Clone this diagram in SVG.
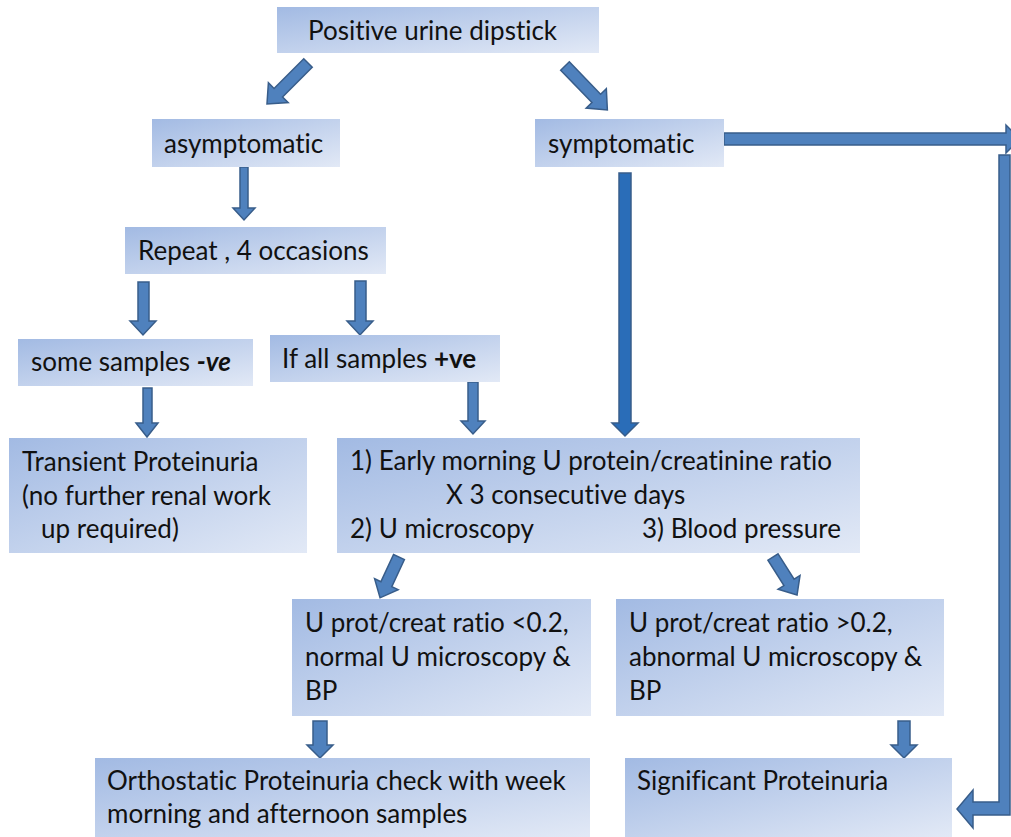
<svg xmlns="http://www.w3.org/2000/svg" width="1011" height="837" viewBox="0 0 1011 837">
<defs>
<linearGradient id="g" x1="0" y1="0" x2="1" y2="1">
<stop offset="0" stop-color="#A2BAE3"/>
<stop offset="1" stop-color="#E2E9F6"/>
</linearGradient>
<style>
.box{fill:url(#g);}
.t{font-family:Lato,"Liberation Sans",sans-serif;font-size:26px;fill:#111;font-variant-ligatures:none;}
.ar{fill:#4F81BD;stroke:#385D8A;stroke-width:1.5;stroke-linejoin:miter;}
.ar2{fill:#2A6DB8;stroke:#385D8A;stroke-width:1.5;}
</style>
</defs>
<rect width="1011" height="837" fill="#fff"/>
<g id="connectors">
<polygon class="ar" transform="translate(308,63) rotate(135)" points="0,-6 42,-6 42,-14 58,0 42,14 42,6 0,6"/>
<polygon class="ar" transform="translate(565,66) rotate(46)" points="0,-6 45,-6 45,-14 61,0 45,14 45,6 0,6"/>
<polygon class="ar" points="240,167 248,167 248,208 255,208 244,220 233,208 240,208"/>
<polygon class="ar" points="138,282 149,282 149,321 156,321 143,335 130,321 138,321"/>
<polygon class="ar" points="355,281 366,281 366,321 373,321 360,335 347,321 355,321"/>
<polygon class="ar" points="143,388 152,388 152,423 158,423 147,437 136,423 143,423"/>
<polygon class="ar" points="468,382 478,382 478,421 485,421 473,434 461,421 468,421"/>
<polygon class="ar2" points="619,173 631,173 631,423 638,423 625,436 612,423 619,423"/>
<polygon class="ar" transform="translate(399,557) rotate(114.9)" points="0,-6 30,-6 30,-13 45,0 30,13 30,6 0,6"/>
<polygon class="ar" transform="translate(773,557) rotate(57.7)" points="0,-6 30,-6 30,-13 45,0 30,13 30,6 0,6"/>
<polygon class="ar" points="313,721 327,721 327,745 333,745 320,758 307,745 313,745"/>
<polygon class="ar" points="898,721 910,721 910,745 917,745 904,758 891,745 898,745"/>
<polygon class="ar" points="724,133 1006,133 1006,125 1020,139 1006,153 1006,145 724,145"/>
<polygon class="ar" points="999,155 1010,155 1010,815 973,815 973,828 957,809 973,790 973,802 999,802"/>
</g>
<g id="n1"><rect class="box" x="277" y="7" width="322" height="46"/><text class="t" x="308" y="40">Positive urine dipstick</text></g>
<g id="n2"><rect class="box" x="152" y="119" width="188" height="48"/><text class="t" x="164" y="153">asymptomatic</text></g>
<g id="n3"><rect class="box" x="535" y="119" width="189" height="48"/><text class="t" x="548" y="153">symptomatic</text></g>
<g id="n4"><rect class="box" x="125" y="227" width="261" height="47"/><text class="t" x="138" y="260">Repeat , 4 occasions</text></g>
<g id="n5"><rect class="box" x="18" y="339" width="235" height="47"/><text class="t" x="31" y="371">some samples <tspan font-weight="bold" font-style="italic">-ve</tspan></text></g>
<g id="n6"><rect class="box" x="270" y="335" width="230" height="47"/><text class="t" x="282" y="368">If all samples <tspan font-weight="bold">+ve</tspan></text></g>
<g id="n7"><rect class="box" x="9" y="438" width="298" height="115"/><text class="t"><tspan x="22" y="471">Transient Proteinuria</tspan><tspan x="22" y="505">(no further renal work</tspan><tspan x="41" y="538">up required)</tspan></text></g>
<g id="n8"><rect class="box" x="337" y="438" width="523" height="115"/><text class="t"><tspan x="350" y="470">1) Early morning U protein/creatinine ratio</tspan><tspan x="446" y="504">X 3 consecutive days</tspan><tspan x="350" y="538">2) U microscopy</tspan><tspan x="642" y="538">3) Blood pressure</tspan></text></g>
<g id="n9"><rect class="box" x="292" y="599" width="299" height="117"/><text class="t"><tspan x="305" y="632">U prot/creat ratio &lt;0.2,</tspan><tspan x="305" y="666">normal U microscopy &amp;</tspan><tspan x="305" y="700">BP</tspan></text></g>
<g id="n10"><rect class="box" x="616" y="599" width="328" height="117"/><text class="t"><tspan x="629" y="632">U prot/creat ratio &gt;0.2,</tspan><tspan x="629" y="666">abnormal U microscopy &amp;</tspan><tspan x="629" y="700">BP</tspan></text></g>
<g id="n11"><rect class="box" x="95" y="758" width="495" height="79"/><text class="t"><tspan x="107" y="790">Orthostatic Proteinuria check with week</tspan><tspan x="107" y="823">morning and afternoon samples</tspan></text></g>
<g id="n12"><rect class="box" x="625" y="758" width="327" height="79"/><text class="t" x="637" y="790">Significant Proteinuria</text></g>
</svg>
